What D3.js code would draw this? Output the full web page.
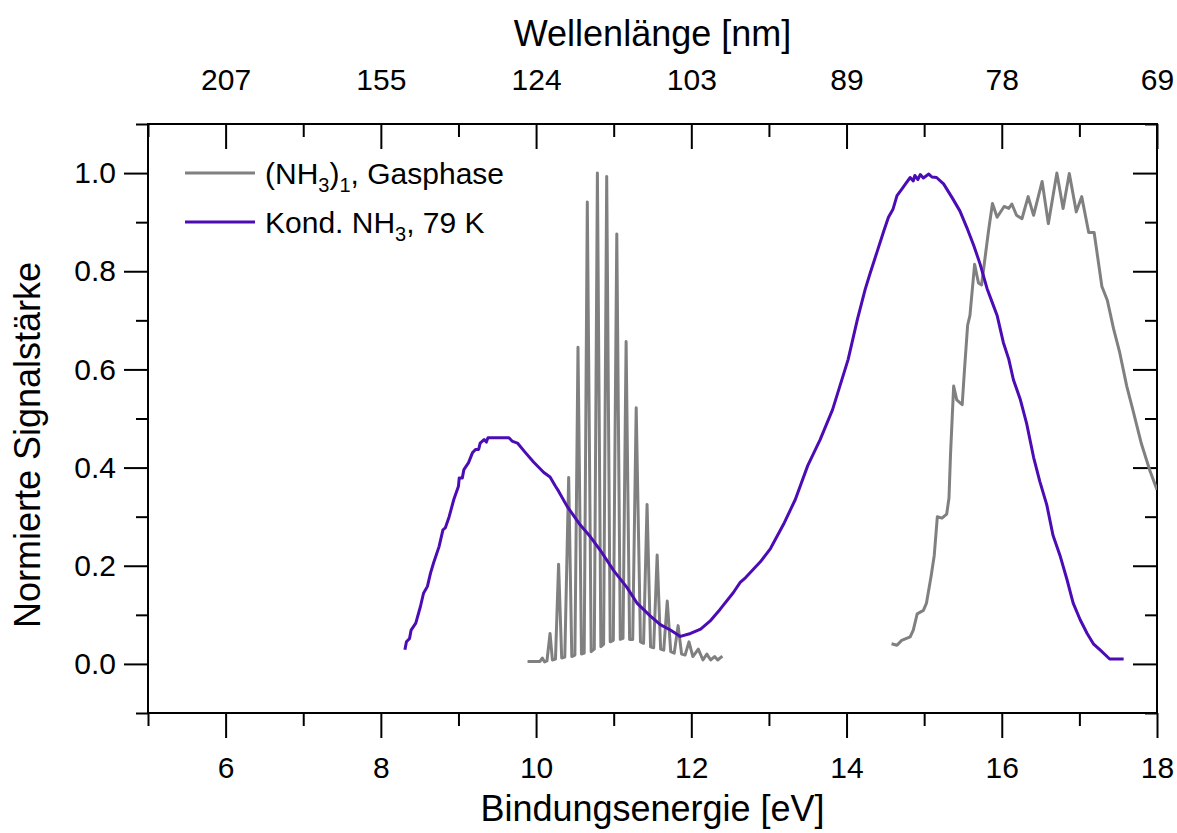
<!DOCTYPE html>
<html>
<head>
<meta charset="utf-8">
<script src="https://cdn.jsdelivr.net/npm/d3@7"></script>
<style>
  body { margin: 0; background: #fff; }
  text { font-family: "Liberation Sans", Arial, sans-serif; fill: #000; }
</style>
</head>
<body>
<div id="chart"></div>
<script>
// data: [energy eV, normalised signal]
var gasLow = [
  [9.89,0.005],[10.05,0.005],[10.08,0.012],[10.11,0.004],[10.14,0.006],[10.18,0.062],
  [10.21,0.008],[10.25,0.01],[10.29,0.203],[10.33,0.012],[10.37,0.014],[10.42,0.38],
  [10.46,0.015],[10.50,0.018],[10.54,0.645],[10.585,0.02],[10.62,0.022],[10.66,0.941],
  [10.71,0.025],[10.75,0.03],[10.79,1.0],[10.835,0.035],[10.87,0.04],[10.91,0.993],
  [10.955,0.045],[10.995,0.048],[11.04,0.876],[11.085,0.05],[11.12,0.052],[11.16,0.657],
  [11.205,0.05],[11.245,0.05],[11.29,0.522],[11.345,0.045],[11.385,0.042],[11.43,0.325],
  [11.475,0.035],[11.515,0.033],[11.56,0.222],[11.605,0.03],[11.645,0.028],[11.69,0.128],
  [11.735,0.025],[11.78,0.022],[11.83,0.078],[11.875,0.02],[11.92,0.018],[11.97,0.045],
  [12.02,0.015],[12.09,0.03],[12.15,0.008],[12.20,0.02],[12.25,0.008],[12.30,0.015],
  [12.34,0.008],[12.40,0.016]
]

var gasHigh = [
  [14.58,0.041],[14.65,0.038],[14.71,0.048],[14.82,0.055],[14.86,0.069],[14.91,0.102],
  [14.99,0.109],[15.03,0.124],[15.09,0.179],[15.13,0.221],[15.17,0.30],[15.23,0.297],
  [15.29,0.305],[15.32,0.338],[15.34,0.428],[15.38,0.566],[15.42,0.538],[15.49,0.528],
  [15.52,0.60],[15.56,0.69],[15.59,0.71],[15.65,0.814],[15.70,0.776],[15.74,0.772],
  [15.79,0.834],[15.83,0.883],[15.88,0.938],[15.94,0.91],[16.03,0.932],[16.09,0.928],
  [16.13,0.937],[16.19,0.914],[16.26,0.907],[16.34,0.952],[16.41,0.914],[16.52,0.983],
  [16.60,0.897],[16.71,1.0],[16.79,0.928],[16.87,0.999],[16.96,0.921],[17.03,0.952],
  [17.12,0.879],[17.19,0.879],[17.29,0.769],[17.36,0.741],[17.44,0.683],[17.52,0.634],
  [17.61,0.566],[17.69,0.517],[17.80,0.448],[17.91,0.393],[18.0,0.355]
]

var kond = [
  [8.31,0.029],[8.33,0.045],[8.37,0.052],[8.39,0.069],[8.45,0.083],[8.51,0.117],
  [8.55,0.144],[8.60,0.158],[8.64,0.185],[8.68,0.206],[8.75,0.239],[8.80,0.273],
  [8.83,0.277],[8.88,0.30],[8.94,0.335],[9.00,0.362],[9.01,0.379],[9.05,0.379],
  [9.07,0.396],[9.13,0.41],[9.18,0.43],[9.22,0.437],[9.26,0.437],[9.28,0.45],
  [9.33,0.457],[9.36,0.452],[9.38,0.461],[9.65,0.461],[9.69,0.454],[9.76,0.45],
  [9.86,0.431],[9.97,0.411],[10.10,0.39],[10.18,0.381],[10.25,0.362],[10.29,0.352],
  [10.40,0.321],[10.57,0.283],[10.70,0.259],[10.83,0.231],[11.00,0.19],[11.17,0.156],
  [11.30,0.124],[11.47,0.098],[11.60,0.08],[11.73,0.069],[11.86,0.056],[11.99,0.062],
  [12.12,0.071],[12.24,0.087],[12.37,0.111],[12.54,0.145],[12.63,0.166],[12.70,0.176],
  [12.89,0.208],[13.02,0.235],[13.19,0.285],[13.34,0.335],[13.50,0.404],[13.66,0.457],
  [13.82,0.518],[13.92,0.569],[14.02,0.62],[14.14,0.702],[14.24,0.763],[14.30,0.794],
  [14.39,0.838],[14.48,0.882],[14.54,0.91],[14.60,0.927],[14.65,0.954],[14.71,0.967],
  [14.76,0.978],[14.82,0.991],[14.86,0.984],[14.88,0.995],[14.92,0.987],[14.95,0.997],
  [14.99,0.99],[15.06,0.998],[15.10,0.992],[15.16,0.991],[15.25,0.978],[15.36,0.95],
  [15.46,0.923],[15.55,0.889],[15.64,0.852],[15.72,0.815],
  [15.81,0.765],[15.89,0.731],[15.94,0.71],[16.02,0.655],[16.09,0.621],[16.15,0.579],
  [16.24,0.538],[16.32,0.49],[16.41,0.421],[16.49,0.372],[16.58,0.324],[16.66,0.262],
  [16.75,0.221],[16.84,0.172],[16.92,0.124],[17.01,0.09],[17.10,0.062],[17.18,0.041],
  [17.27,0.028],[17.39,0.01],[17.57,0.01]
]

var xMajor = [6, 8, 10, 12, 14, 16, 18]
var xMinor = [5, 7, 9, 11, 13, 15, 17]
var topLabels = ["207", "155", "124", "103", "89", "78", "69"]
var yMajor = [0, 0.2, 0.4, 0.6, 0.8, 1.0]
var yMinor = [-0.1, 0.1, 0.3, 0.5, 0.7, 0.9, 1.1]

var grey = "#808080", purple = "#4b0cb5"

const margin = {top: 124, right: 20, bottom: 120, left: 148},
  width = 1177 - margin.left - margin.right,
  height = 833 - margin.top - margin.bottom;

const svg = d3.select("#chart")
  .append("svg")
    .attr("width", 1177)
    .attr("height", 833)
  .append("g")
    .attr("transform", `translate(${margin.left},${margin.top})`);

const x = d3.scaleLinear().domain([5, 18]).range([0, width]);
const y = d3.scaleLinear().domain([-0.1, 1.1]).range([height, 0]);

svg.append("clipPath").attr("id", "clip")
  .append("rect").attr("width", width).attr("height", height);

function styleAxis(g) {
  g.select(".domain").remove()
  g.selectAll("line").attr("stroke", "#000").attr("stroke-width", 2)
  g.selectAll("text").style("font-size", "30px").style("font-family", "Liberation Sans, Arial, sans-serif")
}

// bottom axis
svg.append("g").attr("transform", `translate(0,${height})`)
  .call(d3.axisBottom(x).tickValues(xMajor).tickSize(25).tickSizeOuter(0).tickPadding(19).tickFormat(d3.format("d")))
  .call(styleAxis)
svg.append("g").attr("transform", `translate(0,${height})`)
  .call(d3.axisBottom(x).tickValues(xMinor).tickSize(13).tickSizeOuter(0).tickFormat(""))
  .call(styleAxis)

// top axis, wavelength labels
svg.append("g")
  .call(d3.axisTop(x).tickValues(xMajor).tickSize(-25).tickSizeOuter(0).tickPadding(34)
    .tickFormat((d, i) => topLabels[i]))
  .call(styleAxis)
svg.append("g")
  .call(d3.axisTop(x).tickValues(xMinor).tickSize(-13).tickSizeOuter(0).tickFormat(""))
  .call(styleAxis)

// left axis
svg.append("g")
  .call(d3.axisLeft(y).tickValues(yMajor).tickSize(24).tickSizeOuter(0).tickPadding(8).tickFormat(d3.format(".1f")))
  .call(styleAxis)
svg.append("g")
  .call(d3.axisLeft(y).tickValues(yMinor).tickSize(12).tickSizeOuter(0).tickFormat(""))
  .call(styleAxis)

// right axis, ticks inside
svg.append("g").attr("transform", `translate(${width},0)`)
  .call(d3.axisRight(y).tickValues(yMajor).tickSize(-24).tickSizeOuter(0).tickFormat(""))
  .call(styleAxis)
svg.append("g").attr("transform", `translate(${width},0)`)
  .call(d3.axisRight(y).tickValues(yMinor).tickSize(-12).tickSizeOuter(0).tickFormat(""))
  .call(styleAxis)

// frame
svg.append("rect")
  .attr("width", width).attr("height", height)
  .attr("fill", "none").attr("stroke", "#000").attr("stroke-width", 2)

const line = d3.line()
  .x(function(d) { return x(d[0]); })
  .y(function(d) { return y(d[1]); })

const plot = svg.append("g").attr("clip-path", "url(#clip)")
plot.append("path").datum(gasLow)
  .attr("fill", "none").attr("stroke", grey).attr("stroke-width", 3).attr("stroke-linejoin", "round")
  .attr("d", line)
plot.append("path").datum(gasHigh)
  .attr("fill", "none").attr("stroke", grey).attr("stroke-width", 3).attr("stroke-linejoin", "round")
  .attr("d", line)
plot.append("path").datum(kond)
  .attr("fill", "none").attr("stroke", purple).attr("stroke-width", 3).attr("stroke-linejoin", "round")
  .attr("d", line)

// legend
const leg = svg.append("g").attr("transform", "translate(37,49)")
leg.append("line").attr("x1", 0).attr("x2", 70).attr("y1", 0).attr("y2", 0)
  .attr("stroke", grey).attr("stroke-width", 3)
const t1 = leg.append("text").attr("x", 80).attr("y", 11).style("font-size", "30px")
t1.append("tspan").text("(NH")
t1.append("tspan").text("3").style("font-size", "20px").attr("dy", 8)
t1.append("tspan").text(")").attr("dy", -8)
t1.append("tspan").text("1").style("font-size", "20px").attr("dy", 8)
t1.append("tspan").text(", Gasphase").attr("dy", -8)

leg.append("line").attr("x1", 0).attr("x2", 70).attr("y1", 49).attr("y2", 49)
  .attr("stroke", purple).attr("stroke-width", 3)
const t2 = leg.append("text").attr("x", 80).attr("y", 60).style("font-size", "30px")
t2.append("tspan").text("Kond. NH")
t2.append("tspan").text("3").style("font-size", "20px").attr("dy", 8)
t2.append("tspan").text(", 79 K").attr("dy", -8)

// axis titles
svg.append("text")
  .attr("x", (x(5) + x(18)) / 2).attr("y", height + 108)
  .attr("text-anchor", "middle").style("font-size", "36px")
  .text("Bindungsenergie [eV]")
svg.append("text")
  .attr("x", (x(5) + x(18)) / 2).attr("y", -78)
  .attr("text-anchor", "middle").style("font-size", "36px")
  .text("Wellenlänge [nm]")
svg.append("text")
  .attr("transform", `translate(-108,${445 - margin.top}) rotate(-90)`)
  .attr("text-anchor", "middle").style("font-size", "36px")
  .text("Normierte Signalstärke")
</script>
</body>
</html>
